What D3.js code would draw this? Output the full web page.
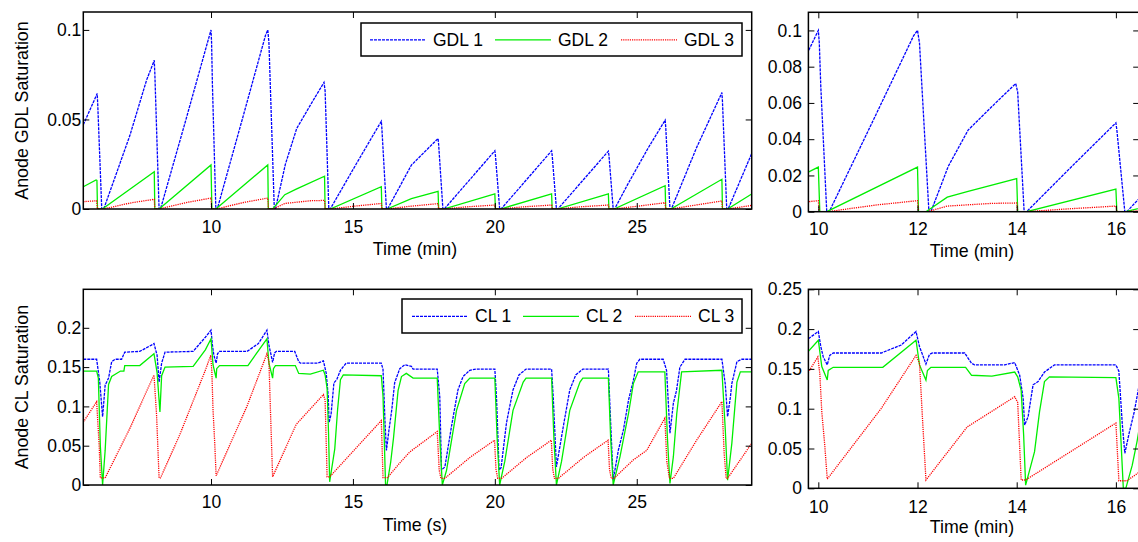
<!DOCTYPE html>
<html>
<head>
<meta charset="utf-8">
<script src="https://cdn.jsdelivr.net/npm/d3@7"></script>
<style>
  html, body { margin: 0; padding: 0; background: #fff; }
  svg { display: block; font-family: "Liberation Sans", Arial, sans-serif; }
</style>
</head>
<body>
<svg id="fig" width="1138" height="542"></svg>
<script>
// ---- Saturation time series: [time (min), saturation] ----
const gdl1 = [
  [5.5,0.047],[5.99,0.0645],[6.01,0.058],[6.15,0],[6.22,0],
  [7.14,0.041],[7.73,0.072],[8.0,0.083],[8.02,0.076],[8.17,0],[8.22,0],
  [9.1,0.049],[10.0,0.1],[10.02,0.093],[10.05,0.069],[10.17,0],[10.22,0],
  [11.1,0.05],[11.92,0.097],[12.0,0.1],[12.04,0.093],[12.23,0],[12.27,0],
  [12.62,0.025],[13.02,0.045],[13.5,0.058],[13.98,0.0707],[14.02,0.066],[14.15,0],[14.2,0],
  [15.1,0.0247],[16.0,0.049],[16.02,0.045],[16.18,0],[16.22,0],
  [17.06,0.0245],[18.0,0.0394],[18.02,0.036],[18.17,0],[18.22,0],
  [20.0,0.0325],[20.02,0.03],[20.17,0],[20.22,0],
  [22.0,0.0325],[22.02,0.03],[22.17,0],[22.22,0],
  [24.0,0.0323],[24.02,0.03],[24.17,0],[24.22,0],
  [24.69,0.014],[25.4,0.034],[26.0,0.0496],[26.02,0.046],[26.17,0],[26.22,0],
  [27.1,0.034],[28.0,0.065],[28.02,0.06],[28.17,0],[28.22,0],
  [29.05,0.031]
];
const gdl2 = [
  [5.5,0.0124],[5.95,0.0162],[5.98,0.016],[6.0,0],[6.17,0],
  [8.0,0.0208],[8.02,0],[8.17,0],
  [10.0,0.0246],[10.03,0],[10.17,0],
  [12.0,0.0246],[12.02,0],[12.17,0],[12.6,0.008],[13.02,0.0112],[14.0,0.0183],[14.02,0],[14.2,0],
  [16.0,0.0125],[16.02,0],[16.2,0],[17.06,0.0058],[18.0,0.0098],[18.02,0],[18.2,0],
  [20.0,0.0084],[20.02,0],[20.2,0],
  [22.0,0.0084],[22.02,0],[22.2,0],
  [24.0,0.0084],[24.02,0],[24.2,0],
  [26.0,0.013],[26.02,0],[26.2,0],
  [28.0,0.0166],[28.02,0],[28.2,0],
  [29.05,0.0084]
];
const gdl3 = [
  [5.5,0.0041],[5.97,0.0046],[6.0,0],[6.17,0],
  [6.5,0.001],[7.2,0.0035],[8.0,0.0054],[8.02,0],[8.17,0],
  [8.5,0.0012],[9.2,0.0038],[10.0,0.0061],[10.02,0],[10.2,0],
  [10.5,0.0012],[11.2,0.0038],[12.0,0.0061],[12.02,0],[12.2,0],
  [12.6,0.0031],[13.5,0.0046],[14.0,0.0048],[14.02,0],[14.2,0],
  [15.0,0.0015],[16.0,0.0031],[16.02,0],[16.2,0],
  [17.0,0.0015],[18.0,0.003],[18.02,0],[18.2,0],
  [19.0,0.0012],[20.0,0.0022],[20.02,0],[20.2,0],
  [21.0,0.0012],[22.0,0.0022],[22.02,0],[22.2,0],
  [23.0,0.0012],[24.0,0.0022],[24.02,0],[24.2,0],
  [25.0,0.0015],[26.0,0.0035],[26.02,0],[26.2,0],
  [27.0,0.002],[28.0,0.0045],[28.02,0],[28.2,0],
  [29.05,0.002]
];
const cl1 = [
  [5.5,0.16],[5.97,0.16],[6.08,0.131],[6.18,0.087],[6.27,0.127],[6.39,0.136],[6.5,0.157],[6.62,0.16],
  [6.85,0.16],[6.96,0.169],[7.49,0.17],[7.9,0.178],[7.99,0.18],[8.1,0.165],[8.17,0.131],[8.26,0.155],
  [8.38,0.169],[9.37,0.17],[9.8,0.188],[10.0,0.197],[10.05,0.178],[10.1,0.165],[10.18,0.155],
  [10.23,0.167],[10.3,0.17],[11.27,0.17],[11.67,0.18],[11.97,0.197],[12.04,0.178],[12.1,0.168],
  [12.17,0.156],[12.24,0.168],[12.3,0.17],[12.95,0.17],[13.09,0.157],[13.15,0.155],[13.76,0.155],
  [13.96,0.158],[14.06,0.142],[14.13,0.113],[14.16,0.0795],[14.23,0.09],[14.33,0.13],[14.43,0.134],
  [14.56,0.146],[14.76,0.155],[16.0,0.155],[16.06,0.147],[16.13,0.08],[16.18,0.044],[16.27,0.07],
  [16.37,0.096],[16.47,0.13],[16.65,0.148],[16.83,0.153],[17.06,0.151],[17.12,0.1475],[17.97,0.1475],
  [18.06,0.112],[18.12,0.019],[18.24,0.023],[18.47,0.074],[18.7,0.121],[18.88,0.138],[19.12,0.146],
  [19.35,0.1475],[20.0,0.1475],[20.06,0.11],[20.15,0.019],[20.22,0.022],[20.41,0.079],[20.64,0.121],
  [20.85,0.14],[21.1,0.1475],[22.0,0.1475],[22.06,0.11],[22.17,0.023],[22.41,0.074],[22.64,0.121],
  [22.85,0.14],[23.1,0.1475],[24.0,0.1475],[24.08,0.08],[24.17,0.006],[24.35,0.044],[24.53,0.07],
  [24.71,0.108],[24.88,0.133],[25.0,0.155],[25.11,0.16],[25.93,0.16],[26.05,0.146],[26.17,0.066],
  [26.29,0.104],[26.4,0.12],[26.52,0.15],[26.7,0.16],[28.0,0.16],[28.12,0.128],[28.2,0.087],
  [28.3,0.112],[28.35,0.129],[28.53,0.157],[28.7,0.16],[29.05,0.16]
];
const cl2 = [
  [5.5,0.145],[5.97,0.145],[6.03,0.136],[6.1,0.05],[6.18,0.0],[6.27,0.044],[6.39,0.128],[6.5,0.138],
  [6.81,0.145],[6.93,0.145],[6.96,0.152],[7.49,0.152],[7.99,0.167],[8.1,0.143],[8.2,0.093],[8.26,0.139],
  [8.38,0.15],[9.37,0.151],[9.8,0.172],[10.0,0.186],[10.07,0.153],[10.18,0.136],[10.2,0.148],
  [10.3,0.152],[11.3,0.152],[11.97,0.186],[12.04,0.155],[12.17,0.136],[12.2,0.148],[12.27,0.152],
  [12.97,0.152],[13.09,0.142],[13.5,0.141],[13.96,0.146],[14.02,0.14],[14.09,0.123],[14.14,0.067],
  [14.18,0.004],[14.36,0.046],[14.46,0.096],[14.56,0.134],[14.66,0.14],[16.0,0.139],[16.06,0.113],
  [16.1,0.063],[16.15,0.0],[16.2,0.0],[16.33,0.029],[16.43,0.06],[16.59,0.12],[16.71,0.138],
  [16.88,0.142],[17.12,0.136],[17.97,0.136],[18.06,0.06],[18.15,0.0],[18.3,0.019],[18.65,0.095],
  [18.94,0.129],[19.12,0.136],[20.0,0.136],[20.08,0.06],[20.17,0.0],[20.35,0.03],[20.64,0.095],
  [21.0,0.131],[21.1,0.136],[22.0,0.136],[22.08,0.06],[22.17,0.0],[22.35,0.03],[22.64,0.095],
  [23.0,0.131],[23.1,0.136],[24.0,0.136],[24.08,0.06],[24.17,0.0],[24.41,0.036],[24.71,0.091],
  [24.88,0.129],[25.05,0.144],[25.99,0.144],[26.08,0.06],[26.17,0.002],[26.29,0.036],[26.41,0.091],
  [26.58,0.144],[28.0,0.146],[28.12,0.07],[28.2,0.006],[28.35,0.053],[28.53,0.131],[28.65,0.144],
  [29.05,0.144]
];
const cl3 = [
  [5.5,0.08],[5.97,0.106],[6.06,0.05],[6.1,0.009],[6.27,0.009],[7.14,0.072],[7.99,0.14],
  [8.08,0.09],[8.17,0.009],[8.22,0.009],[8.9,0.064],[9.8,0.146],[9.99,0.165],[10.03,0.144],
  [10.07,0.096],[10.13,0.054],[10.18,0.0117],[11.27,0.1005],[11.97,0.167],[12.04,0.157],[12.1,0.088],
  [12.17,0.0104],[13.0,0.077],[13.96,0.115],[14.02,0.108],[14.09,0.0104],[14.18,0.0104],[16.0,0.082],
  [16.06,0.0095],[16.22,0.0095],[16.65,0.028],[17.0,0.042],[17.97,0.068],[18.04,0.019],[18.1,0.0085],
  [18.24,0.0085],[19.12,0.035],[19.99,0.057],[20.04,0.02],[20.1,0.0085],[20.24,0.0085],[21.12,0.035],
  [21.99,0.057],[22.04,0.02],[22.1,0.0085],[22.24,0.0085],[23.12,0.035],[23.99,0.057],[24.04,0.02],
  [24.1,0.0085],[24.2,0.0085],[24.88,0.032],[25.35,0.044],[25.99,0.085],[26.06,0.03],[26.15,0.0085],
  [26.29,0.0085],[27.11,0.057],[28.0,0.106],[28.08,0.04],[28.15,0.0085],[28.2,0.0085],[29.05,0.053]
];

// ---- Tick values ----
const xTicksFull = [10, 15, 20, 25];
const xTicksZoom = [10, 12, 14, 16];
const yTicksGdlFull = [0, 0.05, 0.1];
const yTicksGdlZoom = [0, 0.02, 0.04, 0.06, 0.08, 0.1];
const yTicksClFull = [0, 0.05, 0.1, 0.15, 0.2];
const yTicksClZoom = [0, 0.05, 0.1, 0.15, 0.2, 0.25];

// ---- Legend labels ----
const gdlNames = ["GDL 1", "GDL 2", "GDL 3"];
const clNames = ["CL 1", "CL 2", "CL 3"];

// ---- Styling ----
const FONT = '"Liberation Sans", Arial, sans-serif';
const FS = 17.5;        // tick labels and legend
const FS_TITLE = 17.8;  // axis titles
const LW = 1.3;
const lineStyles = [
  { color: "#0000ff", dash: "3,1" },
  { color: "#00ee00", dash: null },
  { color: "#ff0000", dash: "1.2,1" }
];

const svg = d3.select("#fig");
const fmt = d3.format("");

function drawPanel(cfg) {
  const x = d3.scaleLinear().domain(cfg.xDomain).range([cfg.left, cfg.right]);
  const y = d3.scaleLinear().domain(cfg.yDomain).range([cfg.bottom, cfg.top]);
  const g = svg.append("g");

  svg.append("clipPath").attr("id", cfg.id)
    .append("rect")
    .attr("x", cfg.left).attr("y", cfg.top)
    .attr("width", cfg.right - cfg.left).attr("height", cfg.bottom - cfg.top);

  const line = d3.line().x(d => x(d[0])).y(d => y(d[1]));
  const plot = g.append("g").attr("clip-path", `url(#${cfg.id})`);
  cfg.series.forEach((s, i) => {
    plot.append("path")
      .attr("d", line(s))
      .attr("fill", "none")
      .attr("stroke", lineStyles[i].color)
      .attr("stroke-width", LW)
      .attr("stroke-dasharray", lineStyles[i].dash);
  });

  const axes = [
    g.append("g").attr("transform", `translate(0,${cfg.bottom})`)
      .call(d3.axisBottom(x).tickValues(cfg.xTicks).tickSize(-6).tickSizeOuter(0)
        .tickPadding(cfg.xPad).tickFormat(fmt)),
    g.append("g").attr("transform", `translate(0,${cfg.top})`)
      .call(d3.axisTop(x).tickValues(cfg.xTicks).tickSize(-6).tickSizeOuter(0).tickFormat("")),
    g.append("g").attr("transform", `translate(${cfg.left},0)`)
      .call(d3.axisLeft(y).tickValues(cfg.yTicks).tickSize(-6).tickSizeOuter(0)
        .tickPadding(cfg.yPad).tickFormat(fmt)),
    g.append("g").attr("transform", `translate(${cfg.right},0)`)
      .call(d3.axisRight(y).tickValues(cfg.yTicks).tickSize(-6).tickSizeOuter(0).tickFormat(""))
  ];
  axes.forEach(a => {
    a.attr("font-size", FS).attr("font-family", FONT);
    a.select(".domain").remove();
    a.selectAll(".tick line").attr("stroke", "#000").attr("stroke-width", 1);
    a.selectAll(".tick text").attr("fill", "#000");
  });

  g.append("rect")
    .attr("x", cfg.left).attr("y", cfg.top)
    .attr("width", cfg.right - cfg.left).attr("height", cfg.bottom - cfg.top)
    .attr("fill", "none").attr("stroke", "#000").attr("stroke-width", 1.5);

  g.append("text")
    .attr("x", cfg.xTitleX).attr("y", cfg.bottom + cfg.xTitleDy)
    .attr("text-anchor", "middle").attr("font-size", FS_TITLE).attr("font-family", FONT)
    .text(cfg.xTitle);

  if (cfg.yTitle) {
    g.append("text")
      .attr("transform", `translate(28,${(cfg.top + cfg.bottom) / 2}) rotate(-90)`)
      .attr("text-anchor", "middle").attr("font-size", FS_TITLE).attr("font-family", FONT)
      .text(cfg.yTitle);
  }

  if (cfg.legend) {
    const L = cfg.legend;
    const lg = g.append("g");
    lg.append("rect")
      .attr("x", L.x).attr("y", L.y).attr("width", L.w).attr("height", L.h)
      .attr("fill", "#fff").attr("stroke", "#000").attr("stroke-width", 1.5);
    L.names.forEach((name, i) => {
      const cy = L.y + L.h / 2 + 0.3;
      lg.append("line")
        .attr("x1", L.lineX[i]).attr("x2", L.lineX[i] + L.lineLen)
        .attr("y1", cy).attr("y2", cy)
        .attr("stroke", lineStyles[i].color).attr("stroke-width", LW)
        .attr("stroke-dasharray", lineStyles[i].dash);
      lg.append("text")
        .attr("x", L.lineX[i] + L.lineLen + 7).attr("y", cy + 6)
        .attr("font-size", FS).attr("font-family", FONT)
        .text(name);
    });
  }
}

// Upper left: full GDL record
drawPanel({
  id: "clipGdlFull", left: 83.3, right: 751.7, top: 12, bottom: 209,
  xDomain: [5.5, 29.05], yDomain: [0, 0.11],
  xTicks: xTicksFull, yTicks: yTicksGdlFull, xPad: 12, yPad: 2,
  series: [gdl1, gdl2, gdl3],
  xTitle: "Time (min)", xTitleX: 415, xTitleDy: 46,
  yTitle: "Anode GDL Saturation",
  legend: { x: 361, y: 23, w: 381, h: 33, names: gdlNames, lineX: [370, 495, 621], lineLen: 56 }
});

// Upper right: GDL detail
drawPanel({
  id: "clipGdlZoom", left: 808.4, right: 1139.2, top: 12.3, bottom: 211.7,
  xDomain: [9.8, 16.47], yDomain: [0, 0.11],
  xTicks: xTicksZoom, yTicks: yTicksGdlZoom, xPad: 11, yPad: 6.5,
  series: [gdl1, gdl2, gdl3],
  xTitle: "Time (min)", xTitleX: 972, xTitleDy: 45.5
});

// Lower left: full CL record
drawPanel({
  id: "clipClFull", left: 83.3, right: 751.7, top: 289.3, bottom: 485,
  xDomain: [5.5, 29.05], yDomain: [0, 0.249],
  xTicks: xTicksFull, yTicks: yTicksClFull, xPad: 11, yPad: 2,
  series: [cl1, cl2, cl3],
  xTitle: "Time (s)", xTitleX: 415, xTitleDy: 45.5,
  yTitle: "Anode CL Saturation",
  legend: { x: 402, y: 299, w: 340, h: 34, names: clNames, lineX: [412, 523, 635], lineLen: 56 }
});

// Lower right: CL detail
drawPanel({
  id: "clipClZoom", left: 808.4, right: 1139.2, top: 289.3, bottom: 488.3,
  xDomain: [9.8, 16.47], yDomain: [0, 0.25],
  xTicks: xTicksZoom, yTicks: yTicksClZoom, xPad: 12.7, yPad: 6.5,
  series: [cl1, cl2, cl3],
  xTitle: "Time (min)", xTitleX: 972, xTitleDy: 45
});
</script>
</body>
</html>
